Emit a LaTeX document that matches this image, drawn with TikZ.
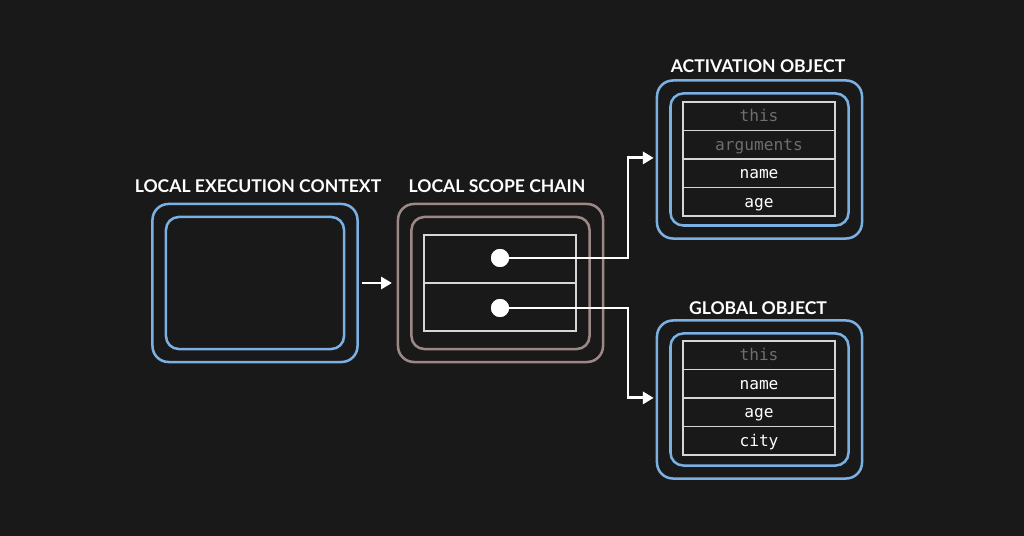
\documentclass[tikz,border=0pt]{standalone}
\usepackage{fontspec}
\setmainfont{Lato}
\newfontfamily\labfont{Lato Bold}
\newfontfamily\codefont{DejaVu Sans Mono}
\usetikzlibrary{arrows.meta}
\definecolor{bg}{HTML}{1A1919}
\definecolor{boxblue}{HTML}{7AB0E2}
\definecolor{boxrose}{HTML}{9C8886}
\definecolor{tline}{HTML}{D6D6D6}
\definecolor{dimtext}{HTML}{6E6E6E}
\tikzset{
  x=0.025cm, y=-0.025cm,
  title/.style={text=white, font=\labfont\fontsize{12.5}{14}\selectfont, inner sep=0pt},
  outerbox/.style={draw, line width=1.8pt, rounded corners=0.4cm, minimum width=5.125cm, minimum height=3.95cm, inner sep=0pt},
  innerbox/.style={draw, line width=1.8pt, rounded corners=0.32cm, minimum width=4.45cm, minimum height=3.3cm, inner sep=0pt},
  row/.style={draw=tline, line width=1.3pt, minimum width=3.8cm, minimum height=0.7125cm, inner sep=0pt, text height=0.33cm, text depth=0.06cm, font=\codefont\fontsize{11.5}{13}\selectfont},
  dim/.style={row, text=dimtext},
  lit/.style={row, text=white},
  dot/.style={circle, fill=white, minimum size=0.45cm, inner sep=0pt},
  conn/.style={draw=white, line width=2.1pt, -{Triangle[length=0.27cm, width=0.3cm]}},
}
\begin{document}
\begin{tikzpicture}
\fill[bg] (0,0) rectangle (1024,536);
\useasboundingbox (0,0) rectangle (1024,536);

% local execution context
\node[title] (lectitle) at (258,186) {LOCAL EXECUTION CONTEXT};
\node[outerbox, draw=boxblue] (lec) at (255,283) {};
\node[innerbox, draw=boxblue] (leci) at (255,283) {};

% local scope chain
\node[title] (lsctitle) at (497,186) {LOCAL SCOPE CHAIN};
\node[outerbox, draw=boxrose] (lsc) at (500.5,283) {};
\node[innerbox, draw=boxrose] (lsci) at (500.5,283) {};
\node[row, minimum height=1.2cm, text height=, text depth=] (s1) at (500,259) {};
\node[row, minimum height=1.2cm, text height=, text depth=] (s2) at (500,307) {};
\node[dot] (d1) at (500,258) {};
\node[dot] (d2) at (500,308) {};

% activation object
\node[title] (aotitle) at (758,66) {ACTIVATION OBJECT};
\node[outerbox, draw=boxblue] (ao) at (759.5,159.5) {};
\node[innerbox, draw=boxblue] (aoi) at (759.5,159.5) {};
\node[dim] (a1) at (759,116.25) {this};
\node[dim] (a2) at (759,144.75) {arguments};
\node[lit] (a3) at (759,173.25) {name};
\node[lit] (a4) at (759,201.75) {age};

% global object
\node[title] (gotitle) at (758,308) {GLOBAL OBJECT};
\node[outerbox, draw=boxblue] (go) at (759.5,399.5) {};
\node[innerbox, draw=boxblue] (goi) at (759.5,399.5) {};
\node[dim] (g1) at (759,355.25) {this};
\node[lit] (g2) at (759,383.75) {name};
\node[lit] (g3) at (759,412.25) {age};
\node[lit] (g4) at (759,440.75) {city};

% connectors
\draw[conn] ([xshift=0.08cm]lec.east) -- ([xshift=-0.12cm]lsc.west);
\draw[conn] (d1.center) -- (628,258) |- ([xshift=-0.05cm,yshift=0.04cm]ao.west);
\draw[conn] (d2.center) -- (628,308) |- ([xshift=-0.05cm,yshift=0.04cm]go.west);
\node[dot] at (d1) {};
\node[dot] at (d2) {};
\end{tikzpicture}
\end{document}
